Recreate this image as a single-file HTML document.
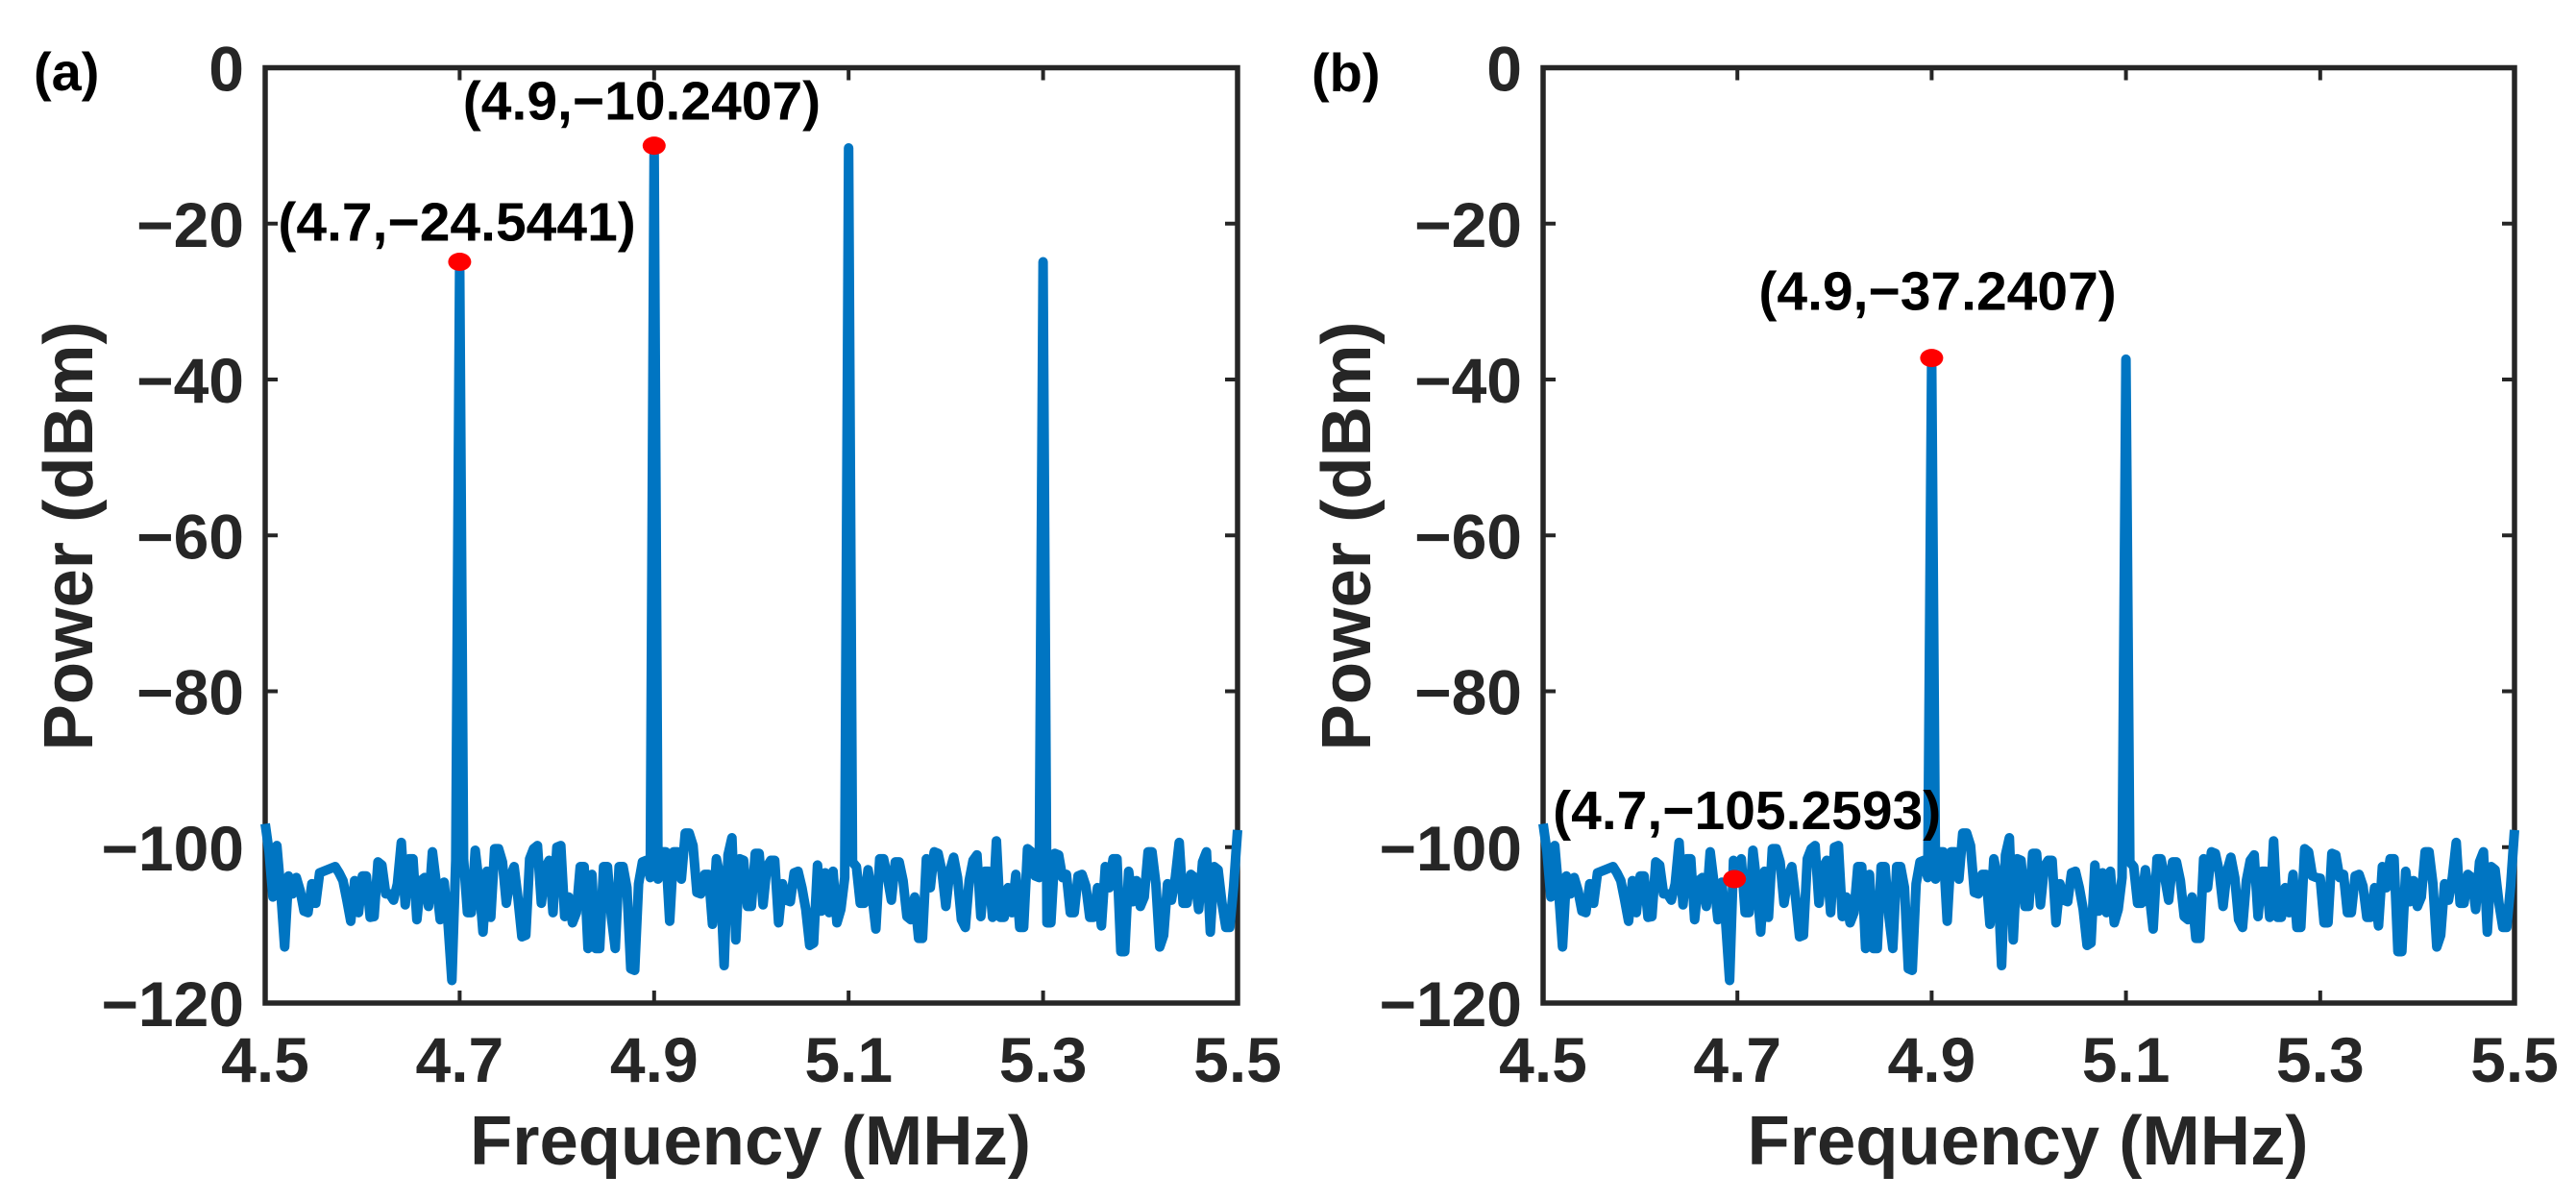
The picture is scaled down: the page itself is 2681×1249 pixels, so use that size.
<!DOCTYPE html>
<html lang="en">
<head>
<meta charset="utf-8">
<title>Power spectra</title>
<style>
html,body{margin:0;padding:0;background:#fff;}
svg{display:block;}
text{font-family:"Liberation Sans",Arial,sans-serif;font-weight:bold;}
</style>
</head>
<body>
<svg id="figure" width="2681" height="1249" viewBox="0 0 2681 1249" xmlns="http://www.w3.org/2000/svg">
  <rect width="2681" height="1249" fill="#fff"/>
  <g id="panel-a"></g>
  <g id="panel-b"></g>
</svg>
<script>
const xTicks = [4.5, 4.7, 4.9, 5.1, 5.3, 5.5];
const xTickLabels = ["4.5", "4.7", "4.9", "5.1", "5.3", "5.5"];
const yTicks = [0, -20, -40, -60, -80, -100, -120];
const yTickLabels = ["0", "\u221220", "\u221240", "\u221260", "\u221280", "\u2212100", "\u2212120"];

const freqStart = 4.5;
const freqStep = 0.004;
const noiseFloor = [
-97,-100.6,-106.4,-99.8,-105.6,-112.8,-103.7,-106,-103.9,-105.6,
-108.2,-108.4,-104.7,-107.2,-103.3,-103.1,-102.9,-102.7,-102.5,-103.3,
-104.3,-106.8,-109.5,-104.3,-108.4,-103.7,-103.7,-109,-108.9,-101.9,
-102.3,-106,-106,-106.8,-104.7,-99.4,-107.4,-101.5,-101.5,-109.3,
-104.3,-103.9,-107.6,-100.6,-104.7,-109.3,-104.5,-109.7,-117.1,-101.7,
-104,-101.5,-108.4,-108.4,-100.4,-104.7,-110.9,-103.1,-109,-100.2,
-100.2,-101.9,-107.2,-103.9,-102.5,-106.6,-111.5,-111.3,-101.5,-100.2,
-99.8,-107.2,-102.7,-101.7,-108.4,-100,-99.8,-108.9,-106.4,-109.7,
-108.4,-102.5,-102.5,-113,-103.5,-113,-113,-102.5,-102.5,-108.9,
-113,-102.5,-102.5,-105.2,-115.6,-115.8,-104.7,-101.9,-101.7,-103.9,
-103,-104.1,-100.6,-100.6,-109.5,-100.6,-100.6,-104.1,-98.2,-98.2,
-99.8,-105.8,-106,-103.5,-103.5,-109.9,-101.5,-103.9,-115.2,-101,
-98.8,-111.9,-101.5,-101.7,-107.6,-107.6,-100.8,-100.8,-107.4,-102.5,
-101.7,-101.7,-109.7,-104.7,-106.8,-107,-103.3,-103.1,-105.2,-108,
-112.6,-112.3,-102.3,-108.2,-103.3,-108.4,-103.1,-109.7,-108,-103.9,
-104,-101.9,-102.5,-107.2,-107.2,-102.9,-106,-110.5,-101.5,-101.5,
-103.9,-106.8,-101.9,-101.9,-104.3,-108.9,-109.3,-106.4,-111.7,-111.7,
-101.5,-105.2,-100.6,-100.8,-103.1,-107.6,-103.1,-101.3,-103.9,-109.3,
-110.3,-104.3,-101.7,-101,-108.9,-103.1,-103.1,-109,-99.2,-109,
-109,-105.2,-108.4,-103.5,-110.3,-110.3,-100.2,-100.6,-103.7,-103.9,
-104,-109.7,-109.7,-100.8,-101,-103.9,-103.5,-108.4,-108.4,-103.7,
-103.5,-105,-109,-109,-105.2,-110.1,-102.5,-105.2,-101.5,-101.5,
-113.4,-113.4,-103.1,-107,-104.3,-107.6,-106.4,-100.6,-100.6,-104.7,
-112.8,-111.3,-104.7,-106.8,-103.9,-99.4,-107.2,-107.2,-103.5,-103.9,
-108,-101.9,-100.6,-110.9,-102.5,-102.9,-107.2,-110.3,-110.3,-105,
-97.8
];

const peakFreqsA = [4.7, 4.9, 5.1, 5.3];
const peakPowersA = [-24.9, -10.24, -10.3, -24.9];
const peakFreqsB = [4.9, 5.1];
const peakPowersB = [-37.24, -37.4];

const markerFreqsA = [4.7, 4.9];
const markerPowersA = [-24.9, -10];
const markerLabelsA = ["(4.7,\u221224.5441)", "(4.9,\u221210.2407)"];
const markerFreqsB = [4.697, 4.9];
const markerPowersB = [-104.1, -37.24];
const markerLabelsB = ["(4.7,\u2212105.2593)", "(4.9,\u221237.2407)"];

const SVG_NS = "http://www.w3.org/2000/svg";
const INK = "#262626";
const LINE = "#0075c2";
const PLOT_TOP = 70.5;
const PLOT_BOTTOM = 1044;
const Y_MIN = -120;
const Y_MAX = 0;
const X_MIN = 4.5;
const X_MAX = 5.5;

function node(parent, tag) {
  const el = document.createElementNS(SVG_NS, tag);
  parent.appendChild(el);
  return el;
}

function seriesFrom(peakFreqs, peakPowers) {
  const values = noiseFloor.slice();
  peakFreqs.forEach(function (f, k) {
    values[Math.round((f - freqStart) / freqStep)] = peakPowers[k];
  });
  return values;
}

function drawPanel(root, left, right, letter, letterX, letterY, peakFreqs, peakPowers, markerFreqs, markerPowers, markerLabels, labelOffsets) {
  const xScale = function (f) { return left + (f - X_MIN) / (X_MAX - X_MIN) * (right - left); };
  const yScale = function (p) { return PLOT_TOP + (Y_MAX - p) / (Y_MAX - Y_MIN) * (PLOT_BOTTOM - PLOT_TOP); };

  xTicks.forEach(function (t, k) {
    const bottomTick = node(root, "line");
    
    
    bottomTick.setAttribute("x1", xScale(t));
    bottomTick.setAttribute("x2", xScale(t));
    bottomTick.setAttribute("y1", PLOT_BOTTOM);
    bottomTick.setAttribute("y2", PLOT_BOTTOM - 13);
    bottomTick.setAttribute("stroke", INK);
    bottomTick.setAttribute("stroke-width", 4);
    const topTick = node(root, "line");
    
    
    topTick.setAttribute("x1", xScale(t));
    topTick.setAttribute("x2", xScale(t));
    topTick.setAttribute("y1", PLOT_TOP);
    topTick.setAttribute("y2", PLOT_TOP + 13);
    topTick.setAttribute("stroke", INK);
    topTick.setAttribute("stroke-width", 4);
    const label = node(root, "text");
    
    
    label.setAttribute("x", xScale(t));
    label.setAttribute("y", 1126);
    label.setAttribute("text-anchor", "middle");
    label.setAttribute("font-size", 66);
    label.setAttribute("fill", INK);
    label.textContent = xTickLabels[k];
  });

  yTicks.forEach(function (t, k) {
    const leftTick = node(root, "line");
    
    
    leftTick.setAttribute("x1", left);
    leftTick.setAttribute("x2", left + 13);
    leftTick.setAttribute("y1", yScale(t));
    leftTick.setAttribute("y2", yScale(t));
    leftTick.setAttribute("stroke", INK);
    leftTick.setAttribute("stroke-width", 4);
    const rightTick = node(root, "line");
    
    
    rightTick.setAttribute("x1", right);
    rightTick.setAttribute("x2", right - 13);
    rightTick.setAttribute("y1", yScale(t));
    rightTick.setAttribute("y2", yScale(t));
    rightTick.setAttribute("stroke", INK);
    rightTick.setAttribute("stroke-width", 4);
    const label = node(root, "text");
    
    
    label.setAttribute("x", left - 22);
    label.setAttribute("y", yScale(t) + 24);
    label.setAttribute("text-anchor", "end");
    label.setAttribute("font-size", 66);
    label.setAttribute("fill", INK);
    label.textContent = yTickLabels[k];
  });

  const frame = node(root, "rect");
  
  
  frame.setAttribute("x", left);
  frame.setAttribute("y", PLOT_TOP);
  frame.setAttribute("width", right - left);
  frame.setAttribute("height", PLOT_BOTTOM - PLOT_TOP);
  frame.setAttribute("fill", "none");
  frame.setAttribute("stroke", INK);
  frame.setAttribute("stroke-width", 5.5);

  const series = seriesFrom(peakFreqs, peakPowers);
  const points = series.map(function (p, i) {
    return xScale(freqStart + i * freqStep).toFixed(2) + "," + yScale(p).toFixed(2);
  }).join(" ");
  const trace = node(root, "polyline");
  
  
  trace.setAttribute("points", points);
  trace.setAttribute("fill", "none");
  trace.setAttribute("stroke", LINE);
  trace.setAttribute("stroke-width", 10);
  trace.setAttribute("stroke-linejoin", "round");
  trace.setAttribute("stroke-linecap", "butt");

  markerFreqs.forEach(function (f, k) {
    const dot = node(root, "ellipse");
    
    
    dot.setAttribute("cx", xScale(f));
    dot.setAttribute("cy", yScale(markerPowers[k]));
    dot.setAttribute("rx", 12);
    dot.setAttribute("ry", 9.5);
    dot.setAttribute("fill", "#ff0000");
    const tag = node(root, "text");
    
    
    tag.setAttribute("x", xScale(f) + labelOffsets[k * 2]);
    tag.setAttribute("y", yScale(markerPowers[k]) + labelOffsets[k * 2 + 1]);
    tag.setAttribute("font-size", 57);
    tag.setAttribute("fill", "#000");
    tag.textContent = markerLabels[k];
  });

  const xTitle = node(root, "text");
  
  
  xTitle.setAttribute("x", (left + right) / 2 - 1);
  xTitle.setAttribute("y", 1212);
  xTitle.setAttribute("text-anchor", "middle");
  xTitle.setAttribute("font-size", 72.5);
  xTitle.setAttribute("fill", INK);
  xTitle.textContent = "Frequency (MHz)";

  const yTitle = node(root, "text");
  
  
  yTitle.setAttribute("transform", "translate(" + (left - 180) + " 558) rotate(-90)");
  yTitle.setAttribute("text-anchor", "middle");
  yTitle.setAttribute("font-size", 72.5);
  yTitle.setAttribute("fill", INK);
  yTitle.textContent = "Power (dBm)";

  const panelLabel = node(root, "text");
  
  
  panelLabel.setAttribute("x", letterX);
  panelLabel.setAttribute("y", letterY);
  panelLabel.setAttribute("font-size", 56);
  panelLabel.setAttribute("fill", "#000");
  panelLabel.textContent = letter;
}

drawPanel(document.getElementById("panel-a"), 276, 1288, "(a)", 35, 94,
  peakFreqsA, peakPowersA, markerFreqsA, markerPowersA, markerLabelsA,
  [-189, -22, -199, -27]);
drawPanel(document.getElementById("panel-b"), 1606, 2617, "(b)", 1365, 95,
  peakFreqsB, peakPowersB, markerFreqsB, markerPowersB, markerLabelsB,
  [-189, -52, -180, -50]);
</script>
</body>
</html>
